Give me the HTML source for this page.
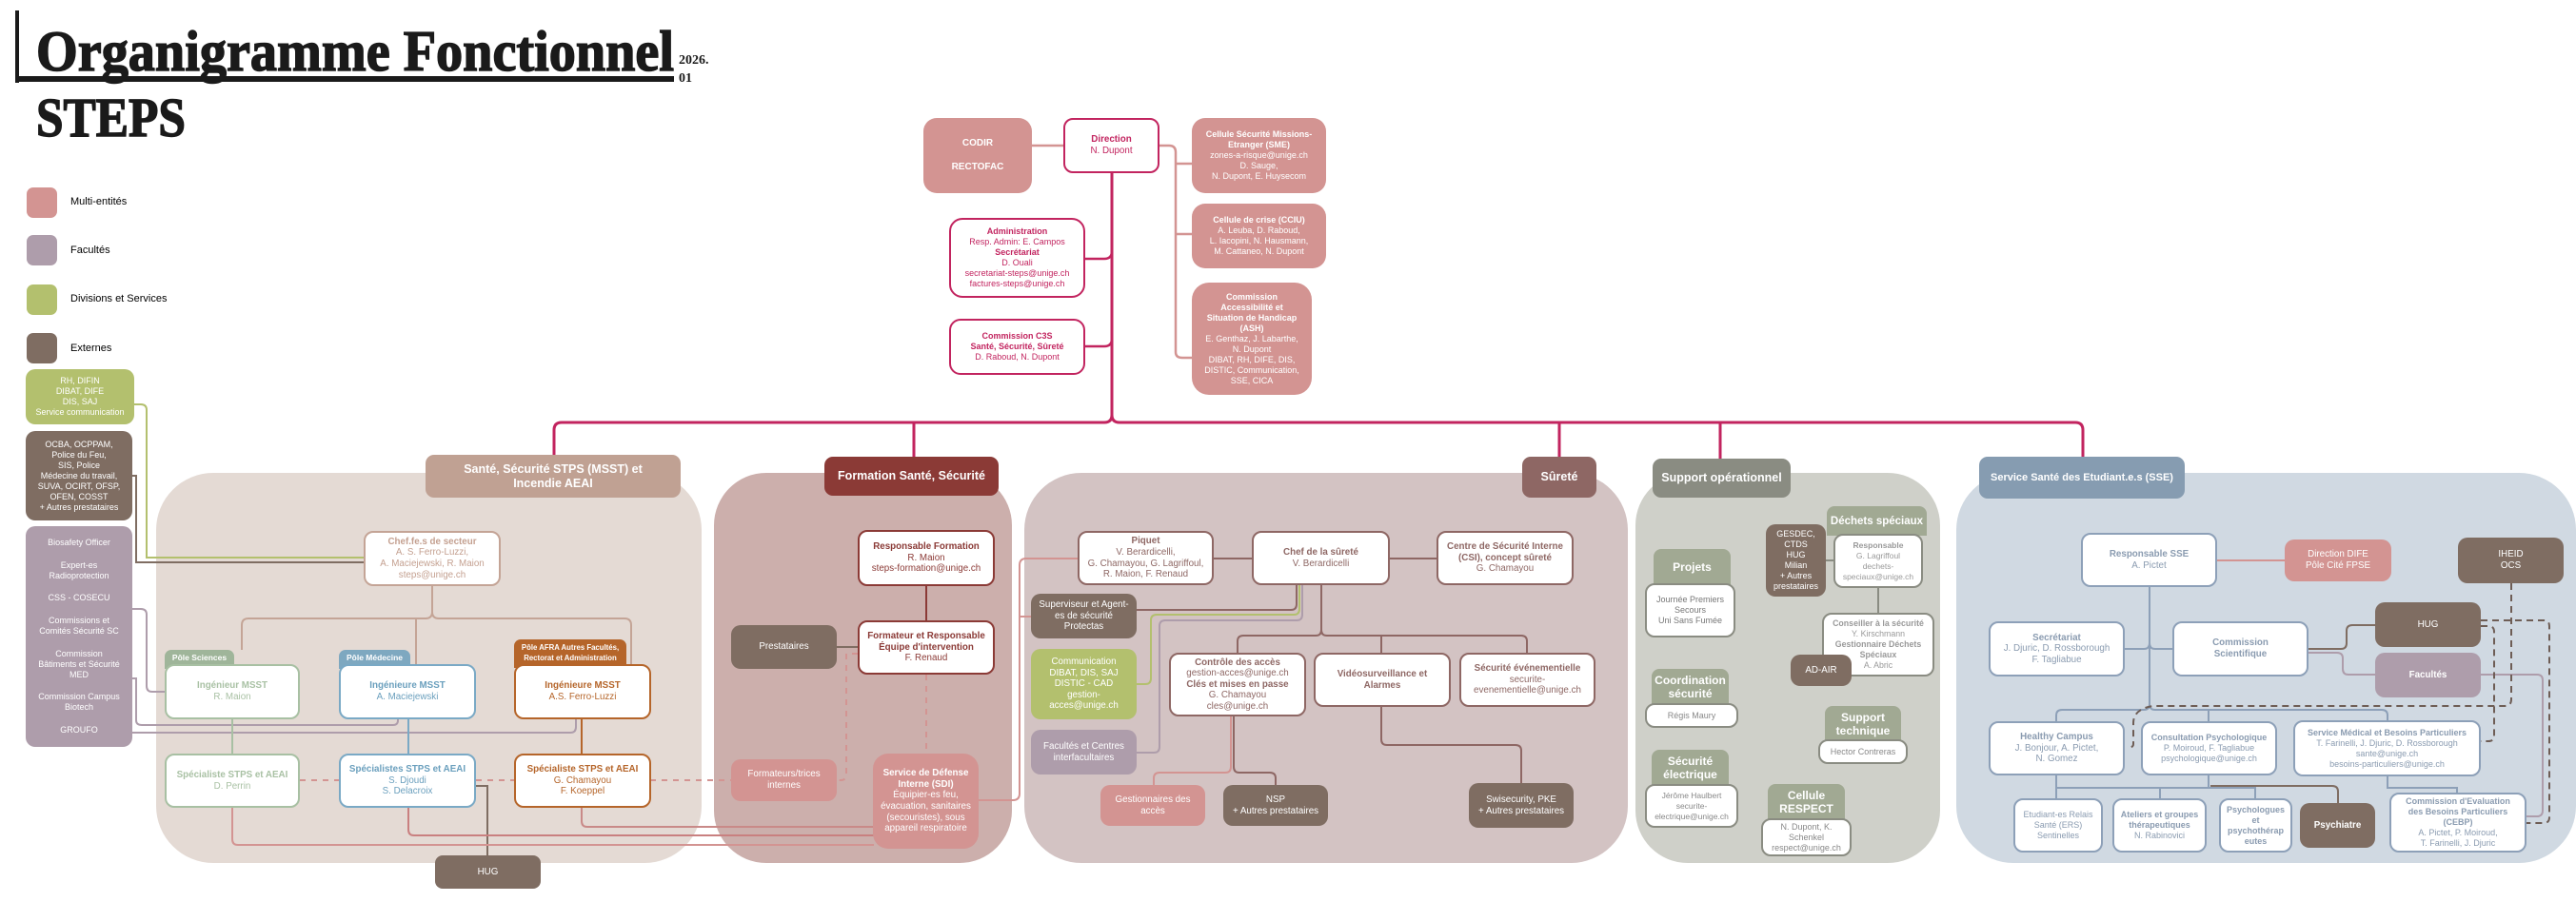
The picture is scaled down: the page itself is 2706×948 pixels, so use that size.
<!DOCTYPE html>
<html><head><meta charset="utf-8">
<style>
*{margin:0;padding:0}
body{width:2706px;height:948px;position:relative;background:#fff;overflow:hidden;font-family:"Liberation Sans",sans-serif}
.a{position:absolute;box-sizing:border-box}
.b{position:absolute;box-sizing:border-box;display:flex;flex-direction:column;align-items:center;justify-content:center;text-align:center;border-radius:10px;font-size:9.8px;line-height:11.6px;white-space:nowrap}
.w{background:#fff;border:2px solid}
.h{color:#fff;font-weight:bold;font-size:12.5px;line-height:15px;border-radius:9px}
.t{font-weight:bold;font-size:12px;line-height:14px;color:#fff;border-radius:8px 8px 0 0;background:#a1a993}
.pk{background:#d39492;color:#fff}
.br{background:#7f6d62;color:#fff}
.pu{background:#ae9dab;color:#fff}
.gr{background:#b3c06e;color:#fff}
.s{font-size:9px;line-height:11px}
svg{position:absolute;left:0;top:0}
</style></head><body>

<div class="a" style="left:164px;top:497px;width:573px;height:410px;background:#e4dad4;border-radius:60px"></div>
<div class="a" style="left:750px;top:497px;width:313px;height:410px;background:#ccafac;border-radius:55px"></div>
<div class="a" style="left:1076px;top:497px;width:634px;height:410px;background:#d3c3c3;border-radius:60px"></div>
<div class="a" style="left:1718px;top:497px;width:320px;height:410px;background:#cfd0c9;border-radius:55px"></div>
<div class="a" style="left:2055px;top:497px;width:651px;height:410px;background:#d0d9e2;border-radius:60px"></div>

<svg width="2706" height="948" fill="none" stroke-linecap="butt">
<rect x="16" y="11" width="4" height="76" fill="#1a1a1a" stroke="none"/>
<rect x="16" y="80" width="692" height="6" fill="#1a1a1a" stroke="none"/>
<text x="38" y="74" textLength="670" lengthAdjust="spacingAndGlyphs" font-family="Liberation Serif,serif" font-weight="bold" font-size="60" fill="#1a1a1a" stroke="#1a1a1a" stroke-width="1.5">Organigramme Fonctionnel</text>
<text x="713" y="67" font-family="Liberation Serif,serif" font-weight="bold" font-size="14" fill="#1a1a1a" stroke="none">2026.</text>
<text x="713" y="86" font-family="Liberation Serif,serif" font-weight="bold" font-size="14" fill="#1a1a1a" stroke="none">01</text>
<text x="38" y="143" textLength="157" lengthAdjust="spacingAndGlyphs" font-family="Liberation Serif,serif" font-weight="bold" font-size="58" fill="#1a1a1a" stroke="#1a1a1a" stroke-width="1.5">STEPS</text>

<g stroke="#c2245f" stroke-width="3">
<path d="M1168 182 V436 Q1168 444 1160 444 H590 Q582 444 582 452 V478"/>
<path d="M1168 436 Q1168 444 1176 444 H2180 Q2188 444 2188 452 V480"/>
<path d="M960 444 V480 M1638 444 V483 M1807 444 V482"/>
<path d="M1140 272 H1160 Q1168 272 1168 264 M1140 364 H1160 Q1168 364 1168 356" stroke-width="2.5"/>
</g>
<g stroke="#d39492" stroke-width="2.5">
<path d="M1084 153 H1117"/>
<path d="M1218 153 H1228 Q1235 153 1235 160 V370 Q1235 376 1242 376 H1252 M1235 172 H1252 M1235 246 H1252"/>
</g>

<path d="M141 425 H148 Q154 425 154 431 V586 H382" stroke="#b3c06e" stroke-width="2"/>
<path d="M139 500 H143 V591 H382" stroke="#7f6d62" stroke-width="2"/>
<g stroke="#ae9dab" stroke-width="2">
<path d="M139 640 H148 Q154 640 154 646 V721 Q154 727 160 727 H173"/>
<path d="M139 713 H143 V757 Q143 762 149 762 H413 Q418 762 418 757 V756"/>
<path d="M139 770 H599 Q605 770 605 764 V756"/>
</g>

<g stroke="#c4a496" stroke-width="2">
<path d="M454 616 V643 Q454 650 447 650 H261 Q254 650 254 657 V683"/>
<path d="M454 643 Q454 650 461 650 H656 Q663 650 663 657 V698"/>
<path d="M437 650 V698"/>
</g>
<path d="M244 756 V792" stroke="#a8c0a3" stroke-width="2"/>
<path d="M429 756 V792" stroke="#7aa9c5" stroke-width="2"/>
<path d="M611 756 V792" stroke="#b5652a" stroke-width="2"/>
<path d="M315 820 H356 M500 820 H540 M683 820 H768" stroke="#d39492" stroke-width="2" stroke-dasharray="6 6"/>
<path d="M500 826 H512 V899" stroke="#7f6d62" stroke-width="2"/>
<path d="M244 849 V882 Q244 888 250 888 H918" stroke="#d39492" stroke-width="2"/>
<path d="M429 849 V872 Q429 878 435 878 H918" stroke="#c98080" stroke-width="2"/>
<path d="M611 849 V863 Q611 869 617 869 H918" stroke="#c98a88" stroke-width="2"/>

<path d="M973 616 V652" stroke="#8b3a36" stroke-width="2"/>
<path d="M879 680 H901" stroke="#7f6d62" stroke-width="2"/>
<path d="M901 687 H889 V814 Q889 820 883 820 H879 M973 709 V792" stroke="#d39492" stroke-width="2" stroke-dasharray="6 6"/>
<path d="M1027 841 H1064 Q1071 841 1071 834 V594 Q1071 587 1078 587 H1132 M1071 648 H1083" stroke="#d39492" stroke-width="2"/>

<g stroke="#8e6764" stroke-width="2">
<path d="M1275 587 H1315 M1460 587 H1509"/>
<path d="M1388 615 V662 Q1388 668 1382 668 H1306 Q1300 668 1300 674 V686"/>
<path d="M1388 662 Q1388 668 1394 668 H1598 Q1604 668 1604 674 V686 M1451 668 V686"/>
<path d="M1451 743 V777 Q1451 783 1457 783 H1592 Q1598 783 1598 789 V823"/>
<path d="M1296 753 V806 Q1296 812 1302 812 H1334 Q1340 812 1340 818 V825"/>
<path d="M1362 615 V635 Q1362 641 1356 641 H1194"/>
</g>
<path d="M1293 753 V806 Q1293 812 1287 812 H1218 Q1212 812 1212 818 V825" stroke="#d39492" stroke-width="2"/>
<path d="M1365 615 V640 Q1365 646 1359 646 H1215 Q1209 646 1209 652 V713 Q1209 719 1203 719 H1194" stroke="#b3c06e" stroke-width="2"/>
<path d="M1368 615 V646 Q1368 652 1362 652 H1224 Q1218 652 1218 658 V785 Q1218 791 1212 791 H1194" stroke="#ae9dab" stroke-width="2"/>

<path d="M1918 589 H1926 M1973 618 V644" stroke="#8a8c82" stroke-width="2"/>

<path d="M2329 589 H2400" stroke="#d39492" stroke-width="2"/>
<g stroke="#8da0b8" stroke-width="2">
<path d="M2258 617 V740"/>
<path d="M2232 682 H2252 Q2258 682 2258 676 M2282 682 H2264 Q2258 682 2258 676"/>
<path d="M2258 740 Q2258 746 2252 746 H2166 Q2160 746 2160 752 V758"/>
<path d="M2258 740 Q2258 746 2264 746 H2502 Q2508 746 2508 752 V757 M2320 746 V758"/>
<path d="M2160 815 V839 M2160 828 H2269 V839"/>
<path d="M2320 815 V828 H2369 V839 M2320 828 H2269"/>
<path d="M2508 816 V828 H2581 V833"/>
</g>
<path d="M2322 826 H2450 Q2456 826 2456 832 V844" stroke="#7f6d62" stroke-width="2"/>
<path d="M2425 682 H2459 Q2465 682 2465 676 V663 Q2465 657 2471 657 H2495" stroke="#7f6d62" stroke-width="2"/>
<path d="M2425 686 H2455 Q2461 686 2461 692 V703 Q2461 709 2467 709 H2495 M2606 709 H2665 Q2671 709 2671 715 V852 Q2671 858 2665 858 H2654" stroke="#ae9dab" stroke-width="2"/>
<g stroke="#6e5d55" stroke-width="2" stroke-dasharray="7 5">
<path d="M2638 613 V735 Q2638 742 2631 742 H2262 Q2241 745 2241 760 V782 Q2241 786 2234 786"/>
<path d="M2606 652 H2672 Q2678 652 2678 658 V859 Q2678 865 2672 865 H2654"/>
<path d="M2606 658 H2614 Q2620 658 2620 664 V773 Q2620 779 2614 779 H2606"/>
</g>
</svg>

<div class="a" style="left:28px;top:197px;width:32px;height:32px;border-radius:7px;background:#d39492"></div>
<div class="a" style="left:74px;top:206px;font-size:11px">Multi-entités</div>
<div class="a" style="left:28px;top:247px;width:32px;height:32px;border-radius:7px;background:#ae9dab"></div>
<div class="a" style="left:74px;top:257px;font-size:11px">Facultés</div>
<div class="a" style="left:28px;top:299px;width:32px;height:32px;border-radius:7px;background:#b3c06e"></div>
<div class="a" style="left:74px;top:308px;font-size:11px">Divisions et Services</div>
<div class="a" style="left:28px;top:350px;width:32px;height:32px;border-radius:7px;background:#7f6d62"></div>
<div class="a" style="left:74px;top:360px;font-size:11px">Externes</div>

<div class="b gr s" style="left:27px;top:388px;width:114px;height:58px">RH, DIFIN<br>DIBAT, DIFE<br>DIS, SAJ<br>Service communication</div>
<div class="b br s" style="left:27px;top:453px;width:112px;height:94px">OCBA, OCPPAM,<br>Police du Feu,<br>SIS, Police<br>Médecine du travail,<br>SUVA, OCIRT, OFSP,<br>OFEN, COSST<br>+ Autres prestataires</div>
<div class="b pu s" style="left:27px;top:553px;width:112px;height:232px;justify-content:space-around;padding:6px 0">
<div>Biosafety Officer</div><div>Expert-es<br>Radioprotection</div><div>CSS - COSECU</div><div>Commissions et<br>Comités Sécurité SC</div><div>Commission<br>Bâtiments et Sécurité<br>MED</div><div>Commission Campus<br>Biotech</div><div>GROUFO</div></div>

<div class="b pk" style="left:970px;top:124px;width:114px;height:79px;font-weight:bold;font-size:10px;justify-content:space-around;padding:14px 0;border-radius:14px"><div>CODIR</div><div>RECTOFAC</div></div>
<div class="b w" style="left:1117px;top:124px;width:101px;height:58px;border-color:#c2245f;color:#c2245f"><b>Direction</b>N. Dupont</div>
<div class="b pk s" style="left:1252px;top:124px;width:141px;height:79px;border-radius:14px"><b>Cellule Sécurité Missions-<br>Etranger (SME)</b>zones-a-risque@unige.ch<br>D. Sauge,<br>N. Dupont, E. Huysecom</div>
<div class="b pk s" style="left:1252px;top:214px;width:141px;height:68px;border-radius:14px"><b>Cellule de crise (CCIU)</b>A. Leuba, D. Raboud,<br>L. Iacopini, N. Hausmann,<br>M. Cattaneo, N. Dupont</div>
<div class="b pk s" style="left:1252px;top:297px;width:126px;height:118px;border-radius:18px"><b>Commission<br>Accessibilité et<br>Situation de Handicap<br>(ASH)</b>E. Genthaz, J. Labarthe,<br>N. Dupont<br>DIBAT, RH, DIFE, DIS,<br>DISTIC, Communication,<br>SSE, CICA</div>
<div class="b w s" style="left:997px;top:229px;width:143px;height:84px;border-color:#c2245f;color:#c2245f;border-radius:14px"><b>Administration</b>Resp. Admin: E. Campos<br><b>Secrétariat</b>D. Ouali<br>secretariat-steps@unige.ch<br>factures-steps@unige.ch</div>
<div class="b w s" style="left:997px;top:335px;width:143px;height:59px;border-color:#c2245f;color:#c2245f;border-radius:12px"><b>Commission C3S<br>Santé, Sécurité, Sûreté</b>D. Raboud, N. Dupont</div>

<div class="b h" style="left:447px;top:478px;width:268px;height:45px;background:#c0a193">Santé, Sécurité STPS (MSST) et<br>Incendie AEAI</div>
<div class="b w" style="left:382px;top:558px;width:144px;height:58px;border-color:#c4a496;color:#c4a090"><b>Chef.fe.s de secteur</b>A. S. Ferro-Luzzi,<br>A. Maciejewski, R. Maion<br>steps@unige.ch</div>
<div class="b" style="left:173px;top:683px;width:73px;height:20px;background:#9fb59a;color:#fff;font-size:8.5px;font-weight:bold;border-radius:7px 7px 0 0;justify-content:flex-start;padding-top:3px">Pôle Sciences</div>
<div class="b w" style="left:173px;top:698px;width:142px;height:58px;border-color:#a8c0a3;color:#a9c1a4"><b>Ingénieur MSST</b>R. Maion</div>
<div class="b" style="left:356px;top:683px;width:75px;height:20px;background:#7ea8c0;color:#fff;font-size:8.5px;font-weight:bold;border-radius:7px 7px 0 0;justify-content:flex-start;padding-top:3px">Pôle Médecine</div>
<div class="b w" style="left:356px;top:698px;width:144px;height:58px;border-color:#7aa9c5;color:#6a9fbd"><b>Ingénieure MSST</b>A. Maciejewski</div>
<div class="b" style="left:540px;top:672px;width:118px;height:30px;background:#b5652a;color:#fff;font-size:7.8px;line-height:11px;font-weight:bold;border-radius:7px 7px 0 0;justify-content:flex-start;padding-top:3px">Pôle AFRA Autres Facultés,<br>Rectorat et Administration</div>
<div class="b w" style="left:540px;top:698px;width:144px;height:58px;border-color:#b5652a;color:#b5652a"><b>Ingénieure MSST</b>A.S. Ferro-Luzzi</div>
<div class="b w" style="left:173px;top:792px;width:142px;height:57px;border-color:#a8c0a3;color:#a9c1a4"><b>Spécialiste STPS et AEAI</b>D. Perrin</div>
<div class="b w" style="left:356px;top:792px;width:144px;height:57px;border-color:#7aa9c5;color:#6a9fbd"><b>Spécialistes STPS et AEAI</b>S. Djoudi<br>S. Delacroix</div>
<div class="b w" style="left:540px;top:792px;width:144px;height:57px;border-color:#b5652a;color:#b5652a"><b>Spécialiste STPS et AEAI</b>G. Chamayou<br>F. Koeppel</div>
<div class="b br" style="left:457px;top:899px;width:111px;height:35px;border-radius:8px">HUG</div>

<div class="b h" style="left:866px;top:480px;width:183px;height:41px;background:#8b3a36">Formation Santé, Sécurité</div>
<div class="b w" style="left:901px;top:557px;width:144px;height:59px;border-color:#8b3a36;color:#8b3a36"><b>Responsable Formation</b>R. Maion<br>steps-formation@unige.ch</div>
<div class="b w" style="left:901px;top:652px;width:144px;height:57px;border-color:#8b3a36;color:#8b3a36"><b>Formateur et Responsable<br>Équipe d'intervention</b>F. Renaud</div>
<div class="b br" style="left:768px;top:657px;width:111px;height:46px">Prestataires</div>
<div class="b pk" style="left:768px;top:798px;width:111px;height:44px">Formateurs/trices<br>internes</div>
<div class="b pk" style="left:917px;top:792px;width:111px;height:100px;border-radius:16px"><b>Service de Défense<br>Interne (SDI)</b>Équipier-es feu,<br>évacuation, sanitaires<br>(secouristes), sous<br>appareil respiratoire</div>

<div class="b h" style="left:1599px;top:480px;width:78px;height:43px;background:#8e6764">Sûreté</div>
<div class="b w" style="left:1132px;top:558px;width:143px;height:57px;border-color:#8e6764;color:#8e6764"><b>Piquet</b>V. Berardicelli,<br>G. Chamayou, G. Lagriffoul,<br>R. Maion, F. Renaud</div>
<div class="b w" style="left:1315px;top:558px;width:145px;height:57px;border-color:#8e6764;color:#8e6764"><b>Chef de la sûreté</b>V. Berardicelli</div>
<div class="b w" style="left:1509px;top:558px;width:144px;height:57px;border-color:#8e6764;color:#8e6764"><b>Centre de Sécurité Interne<br>(CSI), concept sûreté</b>G. Chamayou</div>
<div class="b br" style="left:1083px;top:624px;width:111px;height:47px">Superviseur et Agent-<br>es de sécurité<br>Protectas</div>
<div class="b gr" style="left:1083px;top:682px;width:111px;height:74px">Communication<br>DIBAT, DIS, SAJ<br>DISTIC - CAD<br>gestion-<br>acces@unige.ch</div>
<div class="b pu" style="left:1083px;top:767px;width:111px;height:47px">Facultés et Centres<br>interfacultaires</div>
<div class="b w" style="left:1228px;top:686px;width:144px;height:67px;border-color:#8e6764;color:#8e6764"><b>Contrôle des accès</b>gestion-acces@unige.ch<br><b>Clés et mises en passe</b>G. Chamayou<br>cles@unige.ch</div>
<div class="b w" style="left:1380px;top:686px;width:144px;height:57px;border-color:#8e6764;color:#8e6764"><b>Vidéosurveillance et<br>Alarmes</b></div>
<div class="b w" style="left:1533px;top:686px;width:143px;height:57px;border-color:#8e6764;color:#8e6764"><b>Sécurité événementielle</b>securite-<br>evenementielle@unige.ch</div>
<div class="b pk" style="left:1156px;top:825px;width:110px;height:43px">Gestionnaires des<br>accès</div>
<div class="b br" style="left:1285px;top:825px;width:110px;height:43px">NSP<br>+ Autres prestataires</div>
<div class="b br" style="left:1543px;top:823px;width:110px;height:47px">Swisecurity, PKE<br>+ Autres prestataires</div>

<div class="b h" style="left:1736px;top:482px;width:145px;height:41px;background:#8a8c82">Support opérationnel</div>
<div class="b t" style="left:1737px;top:577px;width:81px;height:38px">Projets</div>
<div class="b w s" style="left:1728px;top:613px;width:95px;height:57px;border-color:#8a8c82;color:#777">Journée Premiers<br>Secours<br>Uni Sans Fumée</div>
<div class="b t" style="left:1735px;top:703px;width:81px;height:38px">Coordination<br>sécurité</div>
<div class="b w s" style="left:1728px;top:739px;width:98px;height:26px;border-color:#8a8c82;color:#888">Régis Maury</div>
<div class="b t" style="left:1735px;top:788px;width:81px;height:38px">Sécurité<br>électrique</div>
<div class="b w" style="left:1728px;top:824px;width:98px;height:46px;border-color:#8a8c82;color:#888;font-size:8.5px;line-height:11px">Jérôme Haulbert<br>securite-<br>electrique@unige.ch</div>
<div class="b t" style="left:1857px;top:824px;width:81px;height:38px">Cellule<br>RESPECT</div>
<div class="b w s" style="left:1850px;top:860px;width:95px;height:40px;border-color:#8a8c82;color:#888">N. Dupont, K.<br>Schenkel<br>respect@unige.ch</div>
<div class="b t" style="left:1919px;top:532px;width:105px;height:31px;font-size:11.5px">Déchets spéciaux</div>
<div class="b br s" style="left:1855px;top:551px;width:63px;height:76px">GESDEC,<br>CTDS<br>HUG<br>Milian<br>+ Autres<br>prestataires</div>
<div class="b w" style="left:1926px;top:561px;width:94px;height:57px;border-color:#8a8c82;color:#999;font-size:8.5px;line-height:11px"><b>Responsable</b>G. Lagriffoul<br>dechets-<br>speciaux@unige.ch</div>
<div class="b w" style="left:1914px;top:644px;width:118px;height:67px;border-color:#8a8c82;color:#999;font-size:8.8px;line-height:11px"><b>Conseiller à la sécurité</b>Y. Kirschmann<br><b>Gestionnaire Déchets<br>Spéciaux</b>A. Abric</div>
<div class="b br" style="left:1881px;top:688px;width:64px;height:33px">AD-AIR</div>
<div class="b t" style="left:1917px;top:742px;width:80px;height:37px">Support<br>technique</div>
<div class="b w s" style="left:1910px;top:777px;width:94px;height:26px;border-color:#8a8c82;color:#888">Hector Contreras</div>

<div class="b h" style="left:2079px;top:480px;width:216px;height:44px;background:#869cb1;font-size:11px">Service Santé des Etudiant.e.s (SSE)</div>
<div class="b w" style="left:2186px;top:560px;width:143px;height:57px;border-color:#8da0b8;color:#8a9bb0"><b>Responsable SSE</b>A. Pictet</div>
<div class="b pk" style="left:2400px;top:567px;width:112px;height:44px">Direction DIFE<br>Pôle Cité FPSE</div>
<div class="b br" style="left:2582px;top:565px;width:111px;height:48px">IHEID<br>OCS</div>
<div class="b br" style="left:2495px;top:633px;width:111px;height:47px">HUG</div>
<div class="b pu" style="left:2495px;top:686px;width:111px;height:47px;font-weight:bold">Facultés</div>
<div class="b w" style="left:2089px;top:653px;width:143px;height:58px;border-color:#8da0b8;color:#8a9bb0"><b>Secrétariat</b>J. Djuric, D. Rossborough<br>F. Tagliabue</div>
<div class="b w" style="left:2282px;top:653px;width:143px;height:58px;border-color:#8da0b8;color:#8a9bb0"><b>Commission<br>Scientifique</b></div>
<div class="b w" style="left:2089px;top:758px;width:143px;height:57px;border-color:#8da0b8;color:#8a9bb0"><b>Healthy Campus</b>J. Bonjour, A. Pictet,<br>N. Gomez</div>
<div class="b w s" style="left:2249px;top:758px;width:143px;height:57px;border-color:#8da0b8;color:#8a9bb0"><b>Consultation Psychologique</b>P. Moiroud, F. Tagliabue<br>psychologique@unige.ch</div>
<div class="b w s" style="left:2409px;top:757px;width:197px;height:59px;border-color:#8da0b8;color:#8a9bb0"><b>Service Médical et Besoins Particuliers</b>T. Farinelli, J. Djuric, D. Rossborough<br>sante@unige.ch<br>besoins-particuliers@unige.ch</div>
<div class="b w s" style="left:2115px;top:839px;width:94px;height:57px;border-color:#8da0b8;color:#8a9bb0">Etudiant-es Relais<br>Santé (ERS)<br>Sentinelles</div>
<div class="b w s" style="left:2219px;top:839px;width:99px;height:57px;border-color:#8da0b8;color:#8a9bb0"><b>Ateliers et groupes<br>thérapeutiques</b>N. Rabinovici</div>
<div class="b w s" style="left:2331px;top:839px;width:77px;height:57px;border-color:#8da0b8;color:#8a9bb0"><b>Psychologues<br>et<br>psychothérap<br>eutes</b></div>
<div class="b br" style="left:2416px;top:844px;width:79px;height:47px;font-weight:bold">Psychiatre</div>
<div class="b w s" style="left:2510px;top:833px;width:144px;height:63px;border-color:#8da0b8;color:#8a9bb0"><b>Commission d'Evaluation<br>des Besoins Particuliers<br>(CEBP)</b>A. Pictet, P. Moiroud,<br>T. Farinelli, J. Djuric</div>

</body></html>
